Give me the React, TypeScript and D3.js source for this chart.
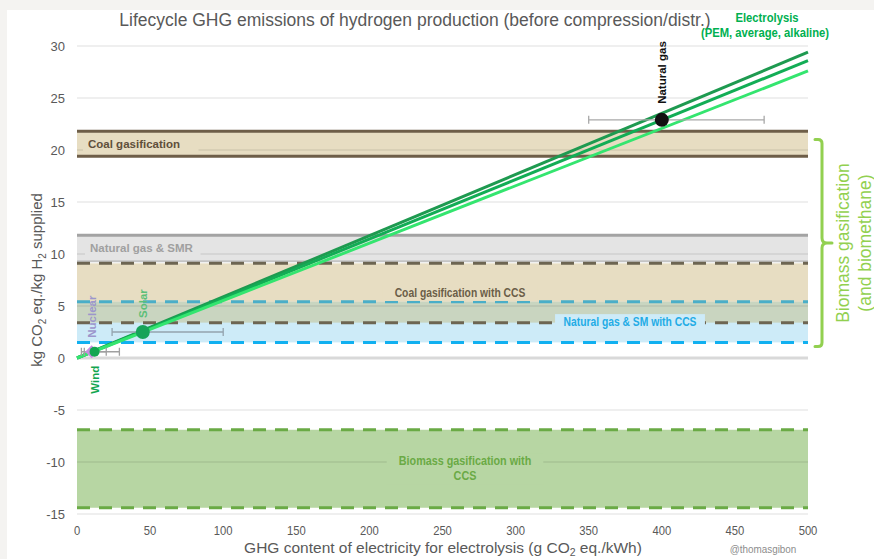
import React from 'react';
import * as d3 from 'd3';

// ---------- data ----------
const xTicks = [0, 50, 100, 150, 200, 250, 300, 350, 400, 450, 500];
const yTicks = [30, 25, 20, 15, 10, 5, 0, -5, -10, -15];

const lineNames = ['PEM', 'Average', 'Alkaline'];
const lineStartX = [0, 0, 0];
const lineStartY = [0, 0, 0];
const lineEndX = [500, 500, 500];
const lineEndY = [29.4, 28.6, 27.6];

const sourceNames = ['Natural gas', 'Solar', 'Nuclear', 'Wind'];
const sourceX = [400, 45, 10, 12];
const sourceY = [22.9, 2.5, 0.6, 0.6];
const sourceLow = [350, 24, 3, 5];
const sourceHigh = [470, 100, 29, 20];

const bandNames = [
  'Coal gasification',
  'Natural gas & SMR',
  'Coal gasification with CCS',
  'Natural gas & SM with CCS',
  'Biomass gasification with CCS',
];
const bandLow = [19.4, 9.3, 3.4, 1.5, -14.4];
const bandHigh = [21.8, 11.8, 9.1, 5.4, -6.9];

const bracketLow = 1.1;
const bracketHigh = 21.0;

// ---------- styles ----------
const W = 874;
const H = 559;
const SANS = "'Liberation Sans', Arial, Helvetica, sans-serif";
const lineColors = ['#1e9a50', '#12ad55', '#34e56f'];
const bandStyle = [
  { fill: '#e7ddc2', top: '#6e5e48', bottom: '#6e5e48', dash: null, topW: 3, botW: 3, label: '#5f4f3b', anchor: 'start', lx: 11, fs: 11.5, sx: 1 },
  { fill: '#e4e4e4', top: '#a3a3a3', bottom: '#c4c4c4', dash: null, topW: 3, botW: 2, label: '#a0a0a0', anchor: 'start', lx: 13, fs: 11.5, sx: 1 },
  { fill: '#e7ddc2', top: '#6d6552', bottom: '#6d6552', dash: '13 9', topW: 3, botW: 3, label: '#6b5d48', anchor: 'middle', lx: 383, fs: 12, sx: 0.86 },
  { fill: '#cdebf8', top: '#4aaec8', bottom: '#11b0f0', dash: '13 9', topW: 3, botW: 3, label: '#22ace6', anchor: 'middle', lx: 553, fs: 12, sx: 0.86 },
  { fill: '#b7d6a3', top: '#6aaa45', bottom: '#6aaa45', dash: '13 9', topW: 3, botW: 3, label: '#6aaa45', anchor: 'middle', lx: 388, fs: 12, sx: 0.9 },
];
const overlapFill = '#c9d5c0';
const sourceStyle = [
  { fill: '#111111', r: 7, label: '#111111', err: '#a8a8a8', below: false, off: 16 },
  { fill: '#17a35a', r: 7, label: '#5cbf78', err: '#93a3ae', below: false, off: 14 },
  { fill: '#c88ee0', r: 5, label: '#9c96cc', err: '#a0a0a0', below: false, off: 14 },
  { fill: '#12a650', r: 5, label: '#12a650', err: '#a0a0a0', below: true, off: 14 },
];

export default function App() {
  const x = d3.scaleLinear().domain([0, 500]).range([77, 808]);
  const y = d3.scaleLinear().domain([-15, 30]).range([514, 46]);
  const x0 = x(0);
  const x1 = x(500);

  const line = d3
    .line<[number, number]>()
    .x((d) => x(d[0]))
    .y((d) => y(d[1]));

  const ovLow = Math.max(bandLow[2], bandLow[3]);
  const ovHigh = Math.min(bandHigh[2], bandHigh[3]);

  const bandLabelLines = (name: string, i: number) =>
    i === 4 ? ['Biomass gasification with', 'CCS'] : [name];

  const byTop = y(bracketHigh);
  const byBot = y(bracketLow);
  const byMid = (byTop + byBot) / 2;
  const bracketPath = `M815,${byTop} L818,${byTop} Q822,${byTop} 822,${byTop + 4} L822,${byMid - 5} Q822,${byMid} 827,${byMid} L832,${byMid} M827,${byMid} Q822,${byMid} 822,${byMid + 5} L822,${byBot - 4} Q822,${byBot} 818,${byBot} L815,${byBot}`;

  return (
    <div style={{ position: 'fixed', left: 0, top: 0 }}>
      <svg width={W} height={H} style={{ display: 'block' }}>
        <rect x={0} y={0} width={W} height={H} fill="#f4f3f1" />
        <rect x={7} y={10} width={W - 7} height={H - 10} fill="#ffffff" />

        {/* title */}
        <text x={415} y={26} textAnchor="middle" fontFamily={SANS} fontSize={17.5} fill="#595959">
          Lifecycle GHG emissions of hydrogen production (before compression/distr.)
        </text>
        <g transform="translate(767,22) scale(0.9,1)">
          <text x={0} y={0} textAnchor="middle" fontFamily={SANS} fontSize={12.5} fontWeight="bold" fill="#00b050">
            Electrolysis
          </text>
        </g>
        <g transform="translate(765,37) scale(0.9,1)">
          <text x={0} y={0} textAnchor="middle" fontFamily={SANS} fontSize={12.5} fontWeight="bold" fill="#00b050">
            (PEM, average, alkaline)
          </text>
        </g>

        {/* band fills */}
        {bandNames.map((n, i) => (
          <rect key={'bf' + i} x={x0} width={x1 - x0} y={y(bandHigh[i])} height={y(bandLow[i]) - y(bandHigh[i])} fill={bandStyle[i].fill} />
        ))}
        {ovHigh > ovLow && (
          <rect x={x0} width={x1 - x0} y={y(ovHigh)} height={y(ovLow) - y(ovHigh)} fill={overlapFill} />
        )}

        {/* gridlines */}
        {yTicks.map((t) => (
          <line
            key={'g' + t}
            x1={x0}
            x2={x1}
            y1={y(t)}
            y2={y(t)}
            stroke={t === 0 ? '#d9d9d9' : 'rgba(0,0,0,0.13)'}
            strokeWidth={t === 0 ? 3 : 1}
          />
        ))}

        {/* band edge lines */}
        {bandNames.map((n, i) => {
          const st = bandStyle[i];
          return (
            <g key={'bl' + i}>
              <line x1={x0} x2={x1} y1={y(bandHigh[i])} y2={y(bandHigh[i])} stroke={st.top} strokeWidth={st.topW} strokeDasharray={st.dash || undefined} />
              <line x1={x0} x2={x1} y1={y(bandLow[i])} y2={y(bandLow[i])} stroke={st.bottom} strokeWidth={st.botW} strokeDasharray={st.dash || undefined} />
            </g>
          );
        })}

        {/* label backgrounds */}
        {bandNames.map((n, i) => {
          const st = bandStyle[i];
          const lines = bandLabelLines(n, i);
          const wMax = Math.max(...lines.map((l) => l.length)) * st.fs * 0.55 * st.sx + 8;
          const cy = y((bandLow[i] + bandHigh[i]) / 2);
          const lx = x0 + st.lx;
          const rx = st.anchor === 'middle' ? lx - wMax / 2 : lx - 5;
          const hh = lines.length * 15 + 1;
          return <rect key={'lb' + i} x={rx} y={cy - hh / 2} width={wMax} height={hh} fill={st.fill} />;
        })}

        {/* band labels */}
        {bandNames.map((n, i) => {
          const st = bandStyle[i];
          const lines = bandLabelLines(n, i);
          const cy = y((bandLow[i] + bandHigh[i]) / 2);
          const lx = x0 + st.lx;
          const y0 = cy - ((lines.length - 1) * 15) / 2 + 4;
          return (
            <g key={'bt' + i} transform={`translate(${lx},${y0}) scale(${st.sx},1)`}>
              <text x={0} y={0} textAnchor={st.anchor} fontFamily={SANS} fontSize={st.fs} fontWeight="bold" fill={st.label}>
                {lines.map((l, k) => (
                  <tspan key={k} x={0} dy={k === 0 ? 0 : 15}>
                    {l}
                  </tspan>
                ))}
              </text>
            </g>
          );
        })}

        {/* y ticks */}
        {yTicks.map((t) => (
          <text key={'yt' + t} x={65} y={y(t) + 5} textAnchor="end" fontFamily={SANS} fontSize={13} fill="#595959">
            {t}
          </text>
        ))}
        {/* x ticks */}
        {xTicks.map((t) => (
          <g key={'xt' + t} transform={`translate(${x(t)},535) scale(0.9,1)`}>
            <text x={0} y={0} textAnchor="middle" fontFamily={SANS} fontSize={12.5} fill="#595959">
              {t}
            </text>
          </g>
        ))}

        {/* axis titles */}
        <text transform={`translate(42,280) rotate(-90)`} textAnchor="middle" fontFamily={SANS} fontSize={15} fill="#595959">
          kg CO<tspan fontSize={10} dy={4}>2</tspan>
          <tspan dy={-4}> eq./kg H</tspan>
          <tspan fontSize={10} dy={4}>2</tspan>
          <tspan dy={-4}> supplied</tspan>
        </text>
        <text x={443} y={553} textAnchor="middle" fontFamily={SANS} fontSize={15.5} fill="#595959">
          GHG content of electricity for electrolysis (g CO<tspan fontSize={10.5} dy={3}>2</tspan>
          <tspan dy={-3}> eq./kWh)</tspan>
        </text>
        <g transform="translate(763,553) scale(0.9,1)">
          <text x={0} y={0} textAnchor="middle" fontFamily={SANS} fontSize={11} fill="#8c8c8c">
            @thomasgibon
          </text>
        </g>

        {/* bracket */}
        <path d={bracketPath} fill="none" stroke="#92d050" strokeWidth={3} strokeLinecap="round" />
        <text transform={`translate(849,${byMid}) rotate(-90)`} textAnchor="middle" fontFamily={SANS} fontSize={17.5} fill="#92d050">
          Biomass gasification
        </text>
        <text transform={`translate(871,${byMid}) rotate(-90)`} textAnchor="middle" fontFamily={SANS} fontSize={17.5} fill="#92d050">
          (and biomethane)
        </text>

        {/* electrolysis lines */}
        {lineNames.map((n, i) => (
          <path
            key={'l' + i}
            d={line([
              [lineStartX[i], lineStartY[i]],
              [lineEndX[i], lineEndY[i]],
            ]) || ''}
            fill="none"
            stroke={lineColors[i]}
            strokeWidth={3}
          />
        ))}

        {/* error bars */}
        {sourceNames.map((n, i) => {
          const st = sourceStyle[i];
          const yy = y(sourceY[i]);
          return (
            <g key={'e' + i} stroke={st.err} strokeWidth={1.3}>
              <line x1={x(sourceLow[i])} x2={x(sourceHigh[i])} y1={yy} y2={yy} />
              <line x1={x(sourceLow[i])} x2={x(sourceLow[i])} y1={yy - 4} y2={yy + 4} />
              <line x1={x(sourceHigh[i])} x2={x(sourceHigh[i])} y1={yy - 4} y2={yy + 4} />
            </g>
          );
        })}

        {/* points */}
        {sourceNames.map((n, i) => {
          const st = sourceStyle[i];
          const cx = x(sourceX[i]);
          const cy = y(sourceY[i]);
          if (n === 'Nuclear') {
            const r = 6.5;
            return <path key={'p' + i} d={`M${cx - r},${cy} L${cx},${cy - r} L${cx + r},${cy} L${cx},${cy + r} Z`} fill={st.fill} />;
          }
          return <circle key={'p' + i} cx={cx} cy={cy} r={st.r} fill={st.fill} />;
        })}

        {/* point labels */}
        {sourceNames.map((n, i) => {
          const st = sourceStyle[i];
          const cx = x(sourceX[i]);
          const cy = y(sourceY[i]);
          const ty = st.below ? cy + st.off : cy - st.off;
          return (
            <text
              key={'pl' + i}
              transform={`translate(${cx + 4},${ty}) rotate(-90)`}
              textAnchor={st.below ? 'end' : 'start'}
              fontFamily={SANS}
              fontSize={11.5}
              fontWeight="bold"
              fill={st.label}
            >
              {n}
            </text>
          );
        })}
      </svg>
    </div>
  );
}
